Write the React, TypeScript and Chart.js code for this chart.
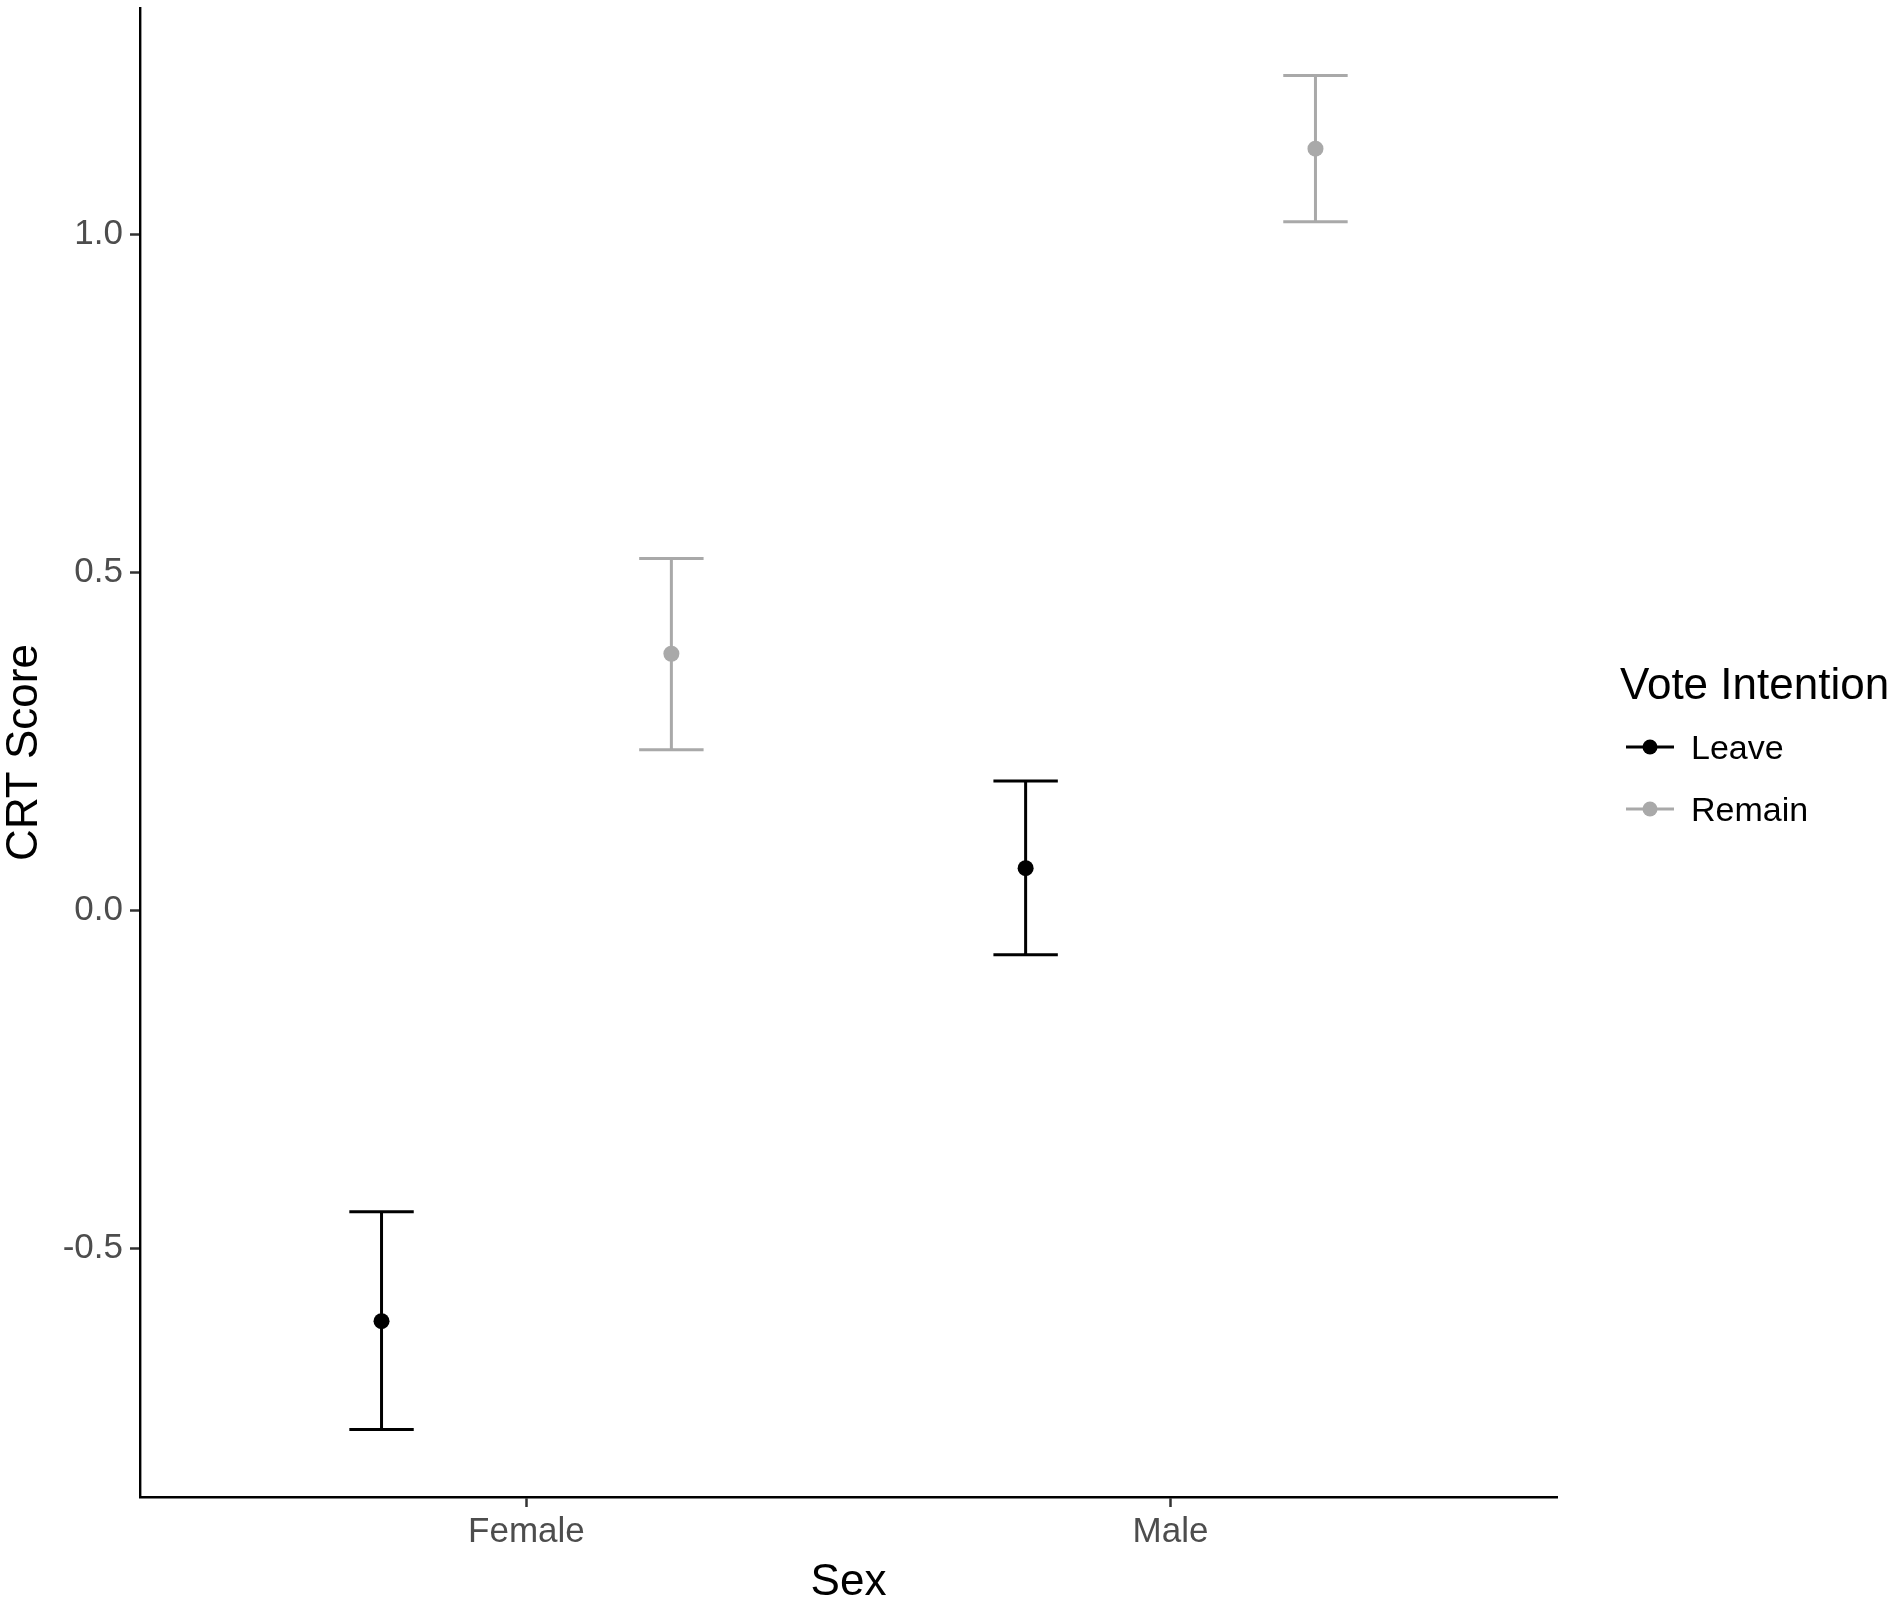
import React, { useEffect, useRef } from 'react';
import { Chart, registerables } from 'chart.js';

Chart.register(...registerables);

// ---- data ----
const categories = ['Female', 'Male'];
const categoryPositions = [1, 2];
const seriesNames = ['Leave', 'Remain'];
const seriesColors = ['#000000', '#a9a9a9'];
const dodgeOffsets = [-0.225, 0.225];

const leaveMean = [-0.607, 0.063];
const leaveLower = [-0.767, -0.065];
const leaveUpper = [-0.445, 0.192];

const remainMean = [0.38, 1.127];
const remainLower = [0.238, 1.019];
const remainUpper = [0.521, 1.235];

const yTickValues = [-0.5, 0.0, 0.5, 1.0];
const yRange = [-0.867, 1.335];
const xRange = [0.4, 2.6];
const capWidth = 0.1;

const xTitle = 'Sex';
const yTitle = 'CRT Score';
const legendTitle = 'Vote Intention';

const FONT = '"Liberation Sans", Arial, Helvetica, sans-serif';

const seriesMeans = [leaveMean, remainMean];
const seriesLowers = [leaveLower, remainLower];
const seriesUppers = [leaveUpper, remainUpper];

const errorBarPlugin = {
  id: 'errorBars',
  beforeDatasetsDraw(chart: any) {
    const { ctx, scales } = chart;
    const xs = scales.x;
    const ys = scales.y;
    chart.data.datasets.forEach((ds: any) => {
      ctx.save();
      ctx.strokeStyle = ds.borderColor;
      ctx.lineWidth = 3;
      ctx.lineCap = 'butt';
      ds.data.forEach((p: any) => {
        const px = xs.getPixelForValue(p.x);
        const pl = xs.getPixelForValue(p.x - capWidth / 2);
        const pr = xs.getPixelForValue(p.x + capWidth / 2);
        const ylo = ys.getPixelForValue(p.lo);
        const yhi = ys.getPixelForValue(p.hi);
        ctx.beginPath();
        ctx.moveTo(px, ylo);
        ctx.lineTo(px, yhi);
        ctx.moveTo(pl, ylo);
        ctx.lineTo(pr, ylo);
        ctx.moveTo(pl, yhi);
        ctx.lineTo(pr, yhi);
        ctx.stroke();
      });
      ctx.restore();
    });
  },
};

const legendPlugin = {
  id: 'customLegend',
  afterDraw(chart: any) {
    const { ctx } = chart;
    ctx.save();
    ctx.fillStyle = '#000000';
    ctx.textAlign = 'left';
    ctx.textBaseline = 'alphabetic';
    ctx.font = `44px ${FONT}`;
    ctx.fillText(legendTitle, 1620, 699);
    seriesNames.forEach((name, i) => {
      const y = 747 + i * 62;
      const color = seriesColors[i];
      ctx.strokeStyle = color;
      ctx.lineWidth = 3;
      ctx.beginPath();
      ctx.moveTo(1626, y);
      ctx.lineTo(1674, y);
      ctx.stroke();
      ctx.fillStyle = color;
      ctx.beginPath();
      ctx.arc(1650, y, 7.5, 0, Math.PI * 2);
      ctx.fill();
      ctx.fillStyle = '#000000';
      ctx.font = `34px ${FONT}`;
      ctx.fillText(name, 1691, y + 12);
    });
    ctx.restore();
  },
};

const zeroPadding = (scale: any) => {
  scale.paddingTop = 0;
  scale.paddingBottom = 0;
  scale.paddingLeft = 0;
  scale.paddingRight = 0;
};

export default function App() {
  const canvasRef = useRef<HTMLCanvasElement | null>(null);

  useEffect(() => {
    if (!canvasRef.current) return;
    const datasets = seriesNames.map((name, s) => ({
      label: name,
      data: categoryPositions.map((c, i) => ({
        x: c + dodgeOffsets[s],
        y: seriesMeans[s][i],
        lo: seriesLowers[s][i],
        hi: seriesUppers[s][i],
      })),
      borderColor: seriesColors[s],
      backgroundColor: seriesColors[s],
      pointRadius: 8,
      pointHoverRadius: 8,
      pointBorderWidth: 0,
      showLine: false,
    }));

    const chart = new Chart(canvasRef.current, {
      type: 'scatter',
      data: { datasets },
      plugins: [errorBarPlugin, legendPlugin],
      options: {
        responsive: false,
        animation: false,
        layout: { padding: { top: 8, right: 344, bottom: 0, left: 0 } },
        plugins: {
          legend: { display: false },
          tooltip: { enabled: false },
        },
        scales: {
          x: {
            type: 'linear',
            min: xRange[0],
            max: xRange[1],
            afterBuildTicks: (scale: any) => {
              scale.ticks = categoryPositions.map((v) => ({ value: v }));
            },
            afterFit: (scale: any) => {
              scale.height = 106;
              zeroPadding(scale);
            },
            ticks: {
              callback: (value: any) => {
                const idx = categoryPositions.indexOf(Number(value));
                return idx >= 0 ? categories[idx] : '';
              },
              color: '#4d4d4d',
              font: { family: FONT, size: 35, lineHeight: 1.2 },
              padding: 4.5,
              maxRotation: 0,
              autoSkip: false,
            },
            grid: {
              drawOnChartArea: false,
              drawTicks: true,
              tickLength: 10,
              tickWidth: 2.5,
              tickColor: '#333333',
            },
            border: { display: true, color: '#000000', width: 2.4 },
            title: {
              display: true,
              text: xTitle,
              color: '#000000',
              font: { family: FONT, size: 44, lineHeight: 0.92 },
              padding: { top: 0, bottom: 0 },
            },
          },
          y: {
            type: 'linear',
            min: yRange[0],
            max: yRange[1],
            afterBuildTicks: (scale: any) => {
              scale.ticks = yTickValues.map((v) => ({ value: v }));
            },
            afterFit: (scale: any) => {
              scale.width = 140;
              zeroPadding(scale);
            },
            ticks: {
              callback: (value: any) => Number(value).toFixed(1),
              color: '#4d4d4d',
              font: { family: FONT, size: 35, lineHeight: 1.2 },
              padding: 7,
              autoSkip: false,
            },
            grid: {
              drawOnChartArea: false,
              drawTicks: true,
              tickLength: 10,
              tickWidth: 2.5,
              tickColor: '#333333',
            },
            border: { display: true, color: '#000000', width: 2.4 },
            title: {
              display: true,
              text: yTitle,
              color: '#000000',
              font: { family: FONT, size: 44, lineHeight: 1 },
              padding: { top: 3, bottom: 0 },
            },
          },
        },
      },
    } as any);

    return () => chart.destroy();
  }, []);

  return (
    <div style={{ position: 'absolute', left: 0, top: 0, width: 1901, height: 1603, background: '#ffffff' }}>
      <canvas ref={canvasRef} width={1901} height={1603} style={{ display: 'block', width: 1901, height: 1603 }} />
    </div>
  );
}
